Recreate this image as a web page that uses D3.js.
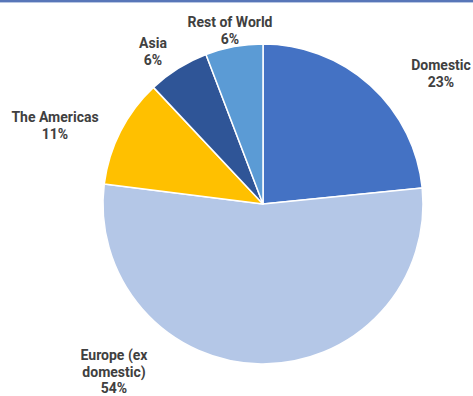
<!DOCTYPE html>
<html>
<head>
<meta charset="utf-8">
<script src="https://cdn.jsdelivr.net/npm/d3@7"></script>
<style>
  html, body { margin: 0; padding: 0; background: #fff; }
  svg { display: block; }
</style>
</head>
<body>
<script>
// slice data, clockwise from 12 o'clock
var regions = ["Domestic", "Europe (ex domestic)", "The Americas", "Asia", "Rest of World"];
var shares = [23.4, 53.6, 11.0, 6.2, 5.8];
var colours = ["#4472C4", "#B4C7E7", "#FFC000", "#2F5597", "#5B9BD5"];
// label text split into lines, with label anchor positions
var labelLines = [["Domestic"], ["Europe (ex", "domestic)"], ["The Americas"], ["Asia"], ["Rest of World"]];
var labelPos = [[441, 65], [114, 355], [55, 117], [153, 43], [230, 22]];

var W = 473, H = 396, cx = 263, cy = 204, R = 160;

var svg = d3.select('body').append('svg').attr('width', W).attr('height', H);

// top rule
svg.append('rect').attr('x', 0).attr('y', 0).attr('width', W).attr('height', 2).attr('fill', '#5876b8');
svg.append('rect').attr('x', 0).attr('y', 2).attr('width', W).attr('height', 1).attr('fill', '#b9c7e3');

var pie = d3.pie().sort(null).value(function(d){ return d; });
var arc = d3.arc().innerRadius(0).outerRadius(R);

var g = svg.append('g').attr('transform', 'translate(' + cx + ',' + cy + ')');
g.selectAll('path').data(pie(shares)).enter().append('path')
	.attr('d', arc)
	.attr('fill', function(d, i){ return colours[i]; })
	.attr('stroke', '#fff')
	.attr('stroke-width', 1.5)
	.attr('stroke-linejoin', 'round');

var labels = svg.selectAll('text.lbl').data(regions).enter().append('text')
	.attr('class', 'lbl')
	.attr('text-anchor', 'middle')
	.attr('font-family', 'Roboto, "Noto Sans", sans-serif')
	.attr('font-weight', 'bold')
	.attr('font-size', 14)
	.attr('fill', '#404040')
	.attr('transform', function(d, i){ return 'translate(' + labelPos[i][0] + ',' + labelPos[i][1] + ')'; });

labels.each(function(d, i){
	var t = d3.select(this);
	var lines = labelLines[i].concat([Math.round(shares[i]) + '%']);
	lines.forEach(function(s, k){
		t.append('tspan').attr('x', 0).attr('y', 5 + k * 16.5).text(s);
	});
});
</script>
</body>
</html>
